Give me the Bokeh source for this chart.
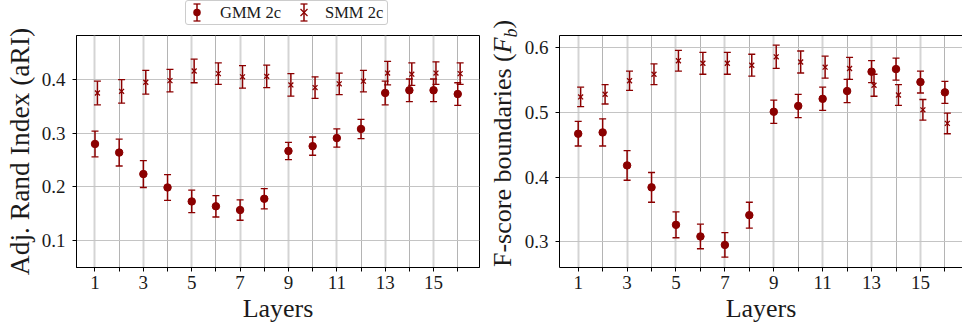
from bokeh.plotting import figure
from bokeh.layouts import row, column
from bokeh.models import (ColumnDataSource, Whisker, TeeHead, FixedTicker,
                          Range1d, LinearAxis, Div)
from bokeh.embed import file_html
from bokeh.resources import INLINE

# ---------------- data ----------------
layers = list(range(1, 17))
x_tick_labels = [1, 3, 5, 7, 9, 11, 13, 15]
x_minor_ticks = [2, 4, 6, 8, 10, 12, 14, 16]
smm_offset = 0.1

gmm_ari = [0.280, 0.264, 0.224, 0.199, 0.173, 0.164, 0.157, 0.178,
           0.267, 0.276, 0.291, 0.308, 0.375, 0.380, 0.380, 0.373]
gmm_ari_err = [0.024, 0.025, 0.025, 0.024, 0.021, 0.020, 0.019, 0.019,
               0.016, 0.017, 0.017, 0.018, 0.022, 0.021, 0.021, 0.021]
smm_ari = [0.375, 0.378, 0.395, 0.398, 0.416, 0.411, 0.405, 0.406,
           0.390, 0.385, 0.392, 0.397, 0.412, 0.410, 0.412, 0.411]
smm_ari_err = [0.022, 0.022, 0.022, 0.021, 0.022, 0.020, 0.021, 0.021,
               0.021, 0.020, 0.020, 0.020, 0.022, 0.021, 0.021, 0.020]

gmm_fb = [0.467, 0.469, 0.418, 0.384, 0.326, 0.308, 0.295, 0.341,
          0.501, 0.510, 0.521, 0.533, 0.563, 0.567, 0.547, 0.531]
gmm_fb_err = [0.019, 0.021, 0.023, 0.023, 0.020, 0.019, 0.019, 0.020,
              0.018, 0.018, 0.018, 0.018, 0.017, 0.017, 0.017, 0.017]
smm_fb = [0.524, 0.528, 0.549, 0.559, 0.580, 0.576, 0.576, 0.573,
          0.586, 0.578, 0.570, 0.568, 0.542, 0.527, 0.504, 0.483]
smm_fb_err = [0.015, 0.015, 0.015, 0.016, 0.016, 0.017, 0.017, 0.017,
              0.018, 0.017, 0.017, 0.017, 0.017, 0.016, 0.016, 0.016]

ari_ticks = [0.1, 0.2, 0.3, 0.4]
fb_ticks = [0.3, 0.4, 0.5, 0.6]

series_names = ["GMM 2c", "SMM 2c"]

# ---------------- style ----------------
RED = "#8b0000"
SERIF = "Liberation Serif"
TXT = "#1a1a1a"
LEG_H = 27
PLOT_H = 299
MIN_TOP = 8
MIN_BOTTOM = 59
LAB_W = 32


def style_axis(ax):
    ax.axis_line_color = "black"
    ax.major_tick_line_color = "black"
    ax.minor_tick_line_color = "black"
    ax.major_tick_in = 0
    ax.major_tick_out = 4
    ax.minor_tick_in = 0
    ax.minor_tick_out = 4
    ax.major_label_text_font = SERIF
    ax.major_label_text_font_size = "19px"
    ax.major_label_text_color = TXT
    ax.axis_label_text_font = SERIF
    ax.axis_label_text_font_style = "normal"
    ax.axis_label_text_color = TXT


def add_errorbars(p, src, cap=7):
    p.add_layout(Whisker(base="x", upper="hi", lower="lo", source=src,
                         dimension="height", line_color=RED, line_width=1.5,
                         upper_head=TeeHead(size=cap, line_color=RED, line_width=1.3),
                         lower_head=TeeHead(size=cap, line_color=RED, line_width=1.3)))


def make_panel(gmm, gmm_err, smm, smm_err, y0, y1, yticks, width,
               min_left, min_right, x1):
    p = figure(width=width, height=PLOT_H, x_range=Range1d(0.235, x1),
               y_range=Range1d(y0, y1), output_backend="svg",
               toolbar_location=None, min_border_left=min_left,
               min_border_right=min_right, min_border_top=MIN_TOP,
               min_border_bottom=MIN_BOTTOM)
    p.outline_line_color = "black"
    p.outline_line_alpha = 1

    p.xaxis.ticker = FixedTicker(ticks=x_tick_labels, minor_ticks=x_minor_ticks)
    p.yaxis.ticker = FixedTicker(ticks=yticks, minor_ticks=[])
    style_axis(p.xaxis[0])
    style_axis(p.yaxis[0])
    p.yaxis.minor_tick_out = 0
    p.xaxis.major_label_standoff = 4
    p.yaxis.major_label_standoff = 7

    p.xaxis.axis_label = "Layers"
    p.xaxis.axis_label_text_font_size = "26px"
    p.xaxis.axis_label_standoff = 2

    p.xgrid.grid_line_color = "#d4d4d4"
    p.xgrid.grid_line_width = 2
    p.xgrid.minor_grid_line_color = "#b4b4b4"
    p.xgrid.minor_grid_line_width = 1
    p.ygrid.grid_line_color = "#c4c4c4"
    p.ygrid.grid_line_width = 1

    gsrc = ColumnDataSource(dict(
        x=layers, y=gmm,
        lo=[v - e for v, e in zip(gmm, gmm_err)],
        hi=[v + e for v, e in zip(gmm, gmm_err)]))
    ssrc = ColumnDataSource(dict(
        x=[l + smm_offset for l in layers], y=smm,
        lo=[v - e for v, e in zip(smm, smm_err)],
        hi=[v + e for v, e in zip(smm, smm_err)]))
    add_errorbars(p, gsrc)
    add_errorbars(p, ssrc)
    p.scatter("x", "y", source=gsrc, marker="circle", size=7.5,
              fill_color=RED, line_color=RED)
    p.scatter("x", "y", source=ssrc, marker="x", size=7,
              line_color=RED, line_width=1.3)
    return p


# left panel: canvas 0..489, frame 72..479
p1 = make_panel(gmm_ari, gmm_ari_err, smm_ari, smm_ari_err, 0.050, 0.482,
                ari_ticks, width=489, min_left=72, min_right=10, x1=16.9)
p1.yaxis.axis_label = "Adj. Rand Index (aRI)"
p1.yaxis.axis_label_text_font_size = "27.5px"
p1.yaxis.axis_label_standoff = 4

# right panel: canvas 521..962, frame 559..962 (right side cut like the reference)
p2 = make_panel(gmm_fb, gmm_fb_err, smm_fb, smm_fb_err, 0.260, 0.619,
                fb_ticks, width=441, min_left=38, min_right=0, x1=16.72)
p2.outline_line_color = None
top_axis = LinearAxis(ticker=FixedTicker(ticks=[]), major_label_text_font_size="0px",
                      major_tick_out=0, minor_tick_out=0, axis_line_color="black")
p2.add_layout(top_axis, "above")

# y-axis title of the right panel (F with subscript b), as rotated HTML text
FONT_CSS = "font-family:'Liberation Serif',serif;color:%s;" % TXT
title_html = (
    '<div style="position:relative;width:%dpx;height:%dpx;">'
    '<div style="position:absolute;left:1px;top:240px;transform-origin:0 0;'
    'transform:rotate(-90deg);white-space:nowrap;font-size:26px;line-height:26px;%s">'
    'F-score boundaries (<i>F</i><sub style="font-size:18px;line-height:0;'
    'font-style:italic;">b</sub>)</div></div>' % (LAB_W, PLOT_H, FONT_CSS))
lab = Div(text=title_html, width=LAB_W, height=PLOT_H, margin=0)

# ---------------- legend strip above the left panel ----------------
def legend_glyph_svg(kind, cx):
    bar = ('<line x1="{c}" y1="4" x2="{c}" y2="21" stroke="{r}" stroke-width="1.5"/>'
           '<line x1="{l}" y1="4" x2="{rr}" y2="4" stroke="{r}" stroke-width="1.3"/>'
           '<line x1="{l}" y1="21" x2="{rr}" y2="21" stroke="{r}" stroke-width="1.3"/>'
           ).format(c=cx, l=cx - 3.5, rr=cx + 3.5, r=RED)
    if kind == "circle":
        mark = '<circle cx="%s" cy="12.5" r="3.75" fill="%s"/>' % (cx, RED)
    else:
        mark = ('<line x1="{a}" y1="9" x2="{b}" y2="16" stroke="{r}" stroke-width="1.3"/>'
                '<line x1="{a}" y1="16" x2="{b}" y2="9" stroke="{r}" stroke-width="1.3"/>'
                ).format(a=cx - 3.5, b=cx + 3.5, r=RED)
    return bar + mark


leg_glyph_x = [197, 304]
leg_text_x = [220, 325]
leg_kinds = ["circle", "x"]
svg_marks = "".join(legend_glyph_svg(k, x) for k, x in zip(leg_kinds, leg_glyph_x))
texts = "".join(
    '<span style="position:absolute;left:%dpx;top:0;line-height:26px;'
    'font-size:16.5px;%s">%s</span>' % (x, FONT_CSS, name)
    for x, name in zip(leg_text_x, series_names))
legend_html = (
    '<div style="position:relative;width:489px;height:%dpx;">'
    '<div style="position:absolute;left:185px;top:0;width:203px;height:25px;'
    'border:1px solid #cccccc;border-radius:3px;background:white;"></div>'
    '<svg style="position:absolute;left:0;top:0;" width="489" height="%d">%s</svg>'
    '%s</div>' % (LEG_H, LEG_H, svg_marks, texts))
leg = Div(text=legend_html, width=489, height=LEG_H, margin=0)

layout = column(leg, row(p1, lab, p2))
open("out.html", "w").write(file_html(layout, INLINE))
